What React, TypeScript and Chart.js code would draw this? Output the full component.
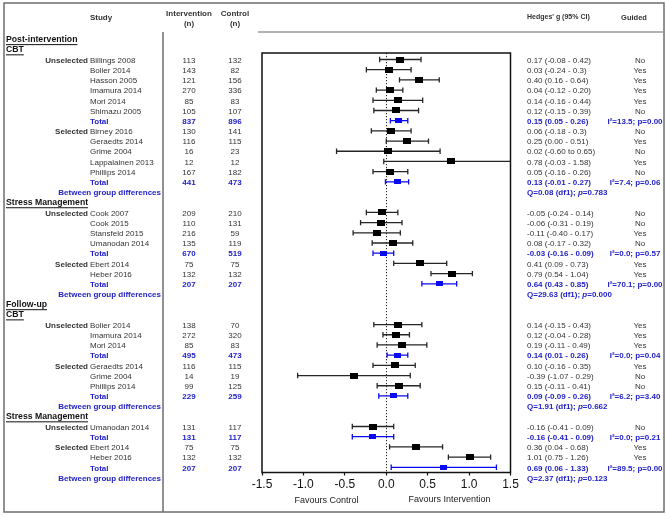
import React, { useEffect, useRef } from 'react';
import { Chart, registerables } from 'chart.js';

Chart.register(...registerables);

// H = section header, S = study, T = subgroup total, B = between-group test
const rowType: string[] = [
  'H', 'H', 'S', 'S', 'S', 'S', 'S', 'S', 'T', 'S', 'S', 'S', 'S', 'S', 'T', 'B',
  'H', 'S', 'S', 'S', 'S', 'T', 'S', 'S', 'T', 'B',
  'H', 'H', 'S', 'S', 'S', 'T', 'S', 'S', 'S', 'T', 'B',
  'H', 'S', 'T', 'S', 'S', 'T', 'B',
];

const rowLabel: string[] = [
  'Post-intervention', 'CBT', 'Billings 2008', 'Bolier 2014', 'Hasson 2005', 'Imamura 2014', 'Mori 2014', 'Shimazu 2005', 'Total',
  'Birney 2016', 'Geraedts 2014', 'Grime 2004', 'Lappalainen 2013', 'Phillips 2014', 'Total', 'Between group differences',
  'Stress Management', 'Cook 2007', 'Cook 2015', 'Stansfeld 2015', 'Umanodan 2014', 'Total', 'Ebert 2014', 'Heber 2016', 'Total', 'Between group differences',
  'Follow-up', 'CBT', 'Bolier 2014', 'Imamura 2014', 'Mori 2014', 'Total', 'Geraedts 2014', 'Grime 2004', 'Phillips 2014', 'Total', 'Between group differences',
  'Stress Management', 'Umanodan 2014', 'Total', 'Ebert 2014', 'Heber 2016', 'Total', 'Between group differences',
];

const rowGroup: string[] = [
  '', '', 'Unselected', '', '', '', '', '', '', 'Selected', '', '', '', '', '', '',
  '', 'Unselected', '', '', '', '', 'Selected', '', '', '',
  '', '', 'Unselected', '', '', '', 'Selected', '', '', '', '',
  '', 'Unselected', '', 'Selected', '', '', '',
];

const nIntervention: (number | null)[] = [
  null, null, 113, 143, 121, 270, 85, 105, 837, 130, 116, 16, 12, 167, 441, null,
  null, 209, 110, 216, 135, 670, 75, 132, 207, null,
  null, null, 138, 272, 85, 495, 116, 14, 99, 229, null,
  null, 131, 131, 75, 132, 207, null,
];

const nControl: (number | null)[] = [
  null, null, 132, 82, 156, 336, 83, 107, 896, 141, 115, 23, 12, 182, 473, null,
  null, 210, 131, 59, 119, 519, 75, 132, 207, null,
  null, null, 70, 320, 83, 473, 115, 19, 125, 259, null,
  null, 117, 117, 75, 132, 207, null,
];

const hedgesG: (number | null)[] = [
  null, null, 0.17, 0.03, 0.40, 0.04, 0.14, 0.12, 0.15, 0.06, 0.25, 0.02, 0.78, 0.05, 0.13, null,
  null, -0.05, -0.06, -0.11, 0.08, -0.03, 0.41, 0.79, 0.64, null,
  null, null, 0.14, 0.12, 0.19, 0.14, 0.10, -0.39, 0.15, 0.09, null,
  null, -0.16, -0.16, 0.36, 1.01, 0.69, null,
];

const ciLow: (number | null)[] = [
  null, null, -0.08, -0.24, 0.16, -0.12, -0.16, -0.15, 0.05, -0.18, 0.00, -0.60, -0.03, -0.16, -0.01, null,
  null, -0.24, -0.31, -0.40, -0.17, -0.16, 0.09, 0.54, 0.43, null,
  null, null, -0.15, -0.04, -0.11, 0.01, -0.16, -1.07, -0.11, -0.09, null,
  null, -0.41, -0.41, 0.04, 0.75, 0.06, null,
];

const ciHigh: (number | null)[] = [
  null, null, 0.42, 0.30, 0.64, 0.20, 0.44, 0.39, 0.26, 0.30, 0.51, 0.65, 1.58, 0.26, 0.27, null,
  null, 0.14, 0.19, 0.17, 0.32, 0.09, 0.73, 1.04, 0.85, null,
  null, null, 0.43, 0.28, 0.49, 0.26, 0.35, 0.29, 0.41, 0.26, null,
  null, 0.09, 0.09, 0.68, 1.26, 1.33, null,
];

const ciText: string[] = [
  '', '', '0.17 (-0.08 - 0.42)', '0.03 (-0.24 - 0.3)', '0.40 (0.16 - 0.64)', '0.04 (-0.12 - 0.20)', '0.14 (-0.16 - 0.44)', '0.12 (-0.15 - 0.39)', '0.15 (0.05 - 0.26)',
  '0.06 (-0.18 - 0.3)', '0.25 (0.00 - 0.51)', '0.02 (-0.60 to 0.65)', '0.78 (-0.03 - 1.58)', '0.05 (-0.16 - 0.26)', '0.13 (-0.01 - 0.27)', 'Q=0.08 (df1); p=0.783',
  '', '-0.05 (-0.24 - 0.14)', '-0.06 (-0.31 - 0.19)', '-0.11 (-0.40 - 0.17)', '0.08 (-0.17 - 0.32)', '-0.03 (-0.16 - 0.09)', '0.41 (0.09 - 0.73)', '0.79 (0.54 - 1.04)', '0.64 (0.43 - 0.85)', 'Q=29.63 (df1); p=0.000',
  '', '', '0.14 (-0.15 - 0.43)', '0.12 (-0.04 - 0.28)', '0.19 (-0.11 - 0.49)', '0.14 (0.01 - 0.26)', '0.10 (-0.16 - 0.35)', '-0.39 (-1.07 - 0.29)', '0.15 (-0.11 - 0.41)', '0.09 (-0.09 - 0.26)', 'Q=1.91 (df1); p=0.662',
  '', '-0.16 (-0.41 - 0.09)', '-0.16 (-0.41 - 0.09)', '0.36 (0.04 - 0.68)', '1.01 (0.75 - 1.26)', '0.69 (0.06 - 1.33)', 'Q=2.37 (df1); p=0.123',
];

const guided: string[] = [
  '', '', 'No', 'Yes', 'Yes', 'Yes', 'Yes', 'No', 'I\u00B2=13.5; p=0.00', 'No', 'Yes', 'No', 'Yes', 'No', 'I\u00B2=7.4; p=0.06', '',
  '', 'No', 'No', 'Yes', 'No', 'I\u00B2=0.0; p=0.57', 'Yes', 'Yes', 'I\u00B2=70.1; p=0.00', '',
  '', '', 'Yes', 'Yes', 'Yes', 'I\u00B2=0.0; p=0.04', 'Yes', 'No', 'No', 'I\u00B2=6.2; p=3.40', '',
  '', 'No', 'I\u00B2=0.0; p=0.21', 'Yes', 'Yes', 'I\u00B2=89.5; p=0.00', '',
];

const xTicks: number[] = [-1.5, -1.0, -0.5, 0.0, 0.5, 1.0, 1.5];
const favoursLeft = 'Favours Control';
const favoursRight = 'Favours Intervention';

const FONT = "'Liberation Sans', Arial, Helvetica, sans-serif";
const TEXT = '#333333';
const BLUE_TEXT = '#2323c8';
const BLUE_MARK = '#0a0af0';

function makeRect(w: number, h: number, color: string) {
  const c = document.createElement('canvas');
  c.width = w;
  c.height = h;
  const g = c.getContext('2d')!;
  g.fillStyle = color;
  g.fillRect(0, 0, w, h);
  return c;
}

const forestPlugin = {
  id: 'forest',
  beforeDatasetsDraw(chart: any) {
    const { ctx, chartArea: a, scales } = chart;
    const x = scales.x;
    const y = scales.y;
    ctx.save();
    ctx.beginPath();
    ctx.rect(a.left, a.top, a.right - a.left, a.bottom - a.top);
    ctx.clip();
    // zero line
    const x0 = Math.round(x.getPixelForValue(0)) + 0.5;
    ctx.setLineDash([1.2, 1.8]);
    ctx.strokeStyle = '#222';
    ctx.lineWidth = 1;
    ctx.beginPath();
    ctx.moveTo(x0, a.top);
    ctx.lineTo(x0, a.bottom);
    ctx.stroke();
    ctx.setLineDash([]);
    // whiskers
    for (let i = 0; i < rowType.length; i++) {
      const lo = ciLow[i];
      const hi = ciHigh[i];
      if (lo === null || hi === null) continue;
      const yp = y.getPixelForValue(i);
      const xl = x.getPixelForValue(lo);
      const xh = x.getPixelForValue(hi);
      ctx.strokeStyle = rowType[i] === 'T' ? BLUE_MARK : '#262626';
      ctx.lineWidth = 1.3;
      ctx.beginPath();
      ctx.moveTo(xl, yp);
      ctx.lineTo(xh, yp);
      ctx.moveTo(xl, yp - 2.7);
      ctx.lineTo(xl, yp + 2.7);
      ctx.moveTo(xh, yp - 2.7);
      ctx.lineTo(xh, yp + 2.7);
      ctx.stroke();
    }
    ctx.restore();
  },
  afterDraw(chart: any) {
    const { ctx, chartArea: a, scales } = chart;
    const y = scales.y;
    ctx.save();
    // plot box
    ctx.strokeStyle = '#111';
    ctx.lineWidth = 1.5;
    ctx.strokeRect(a.left, a.top, a.right - a.left, a.bottom - a.top);

    // outer frame and dividers
    ctx.strokeStyle = '#6e6e6e';
    ctx.lineWidth = 1.5;
    ctx.strokeRect(4, 3, 660, 509);
    ctx.beginPath();
    ctx.moveTo(163, 32);
    ctx.lineTo(163, 512);
    ctx.stroke();
    ctx.strokeStyle = '#999';
    ctx.beginPath();
    ctx.moveTo(258, 32);
    ctx.lineTo(664, 32);
    ctx.stroke();

    ctx.textBaseline = 'middle';
    const put = (t: string, px: number, py: number, align: CanvasTextAlign, font: string, color: string) => {
      ctx.font = font;
      ctx.fillStyle = color;
      ctx.textAlign = align;
      ctx.fillText(t, px, py);
    };
    const bold8 = `bold 8px ${FONT}`;
    const reg8 = `8px ${FONT}`;

    // header
    put('Study', 101, 18, 'center', bold8, TEXT);
    put('Intervention', 189, 14, 'center', bold8, TEXT);
    put('(n)', 189, 24, 'center', bold8, TEXT);
    put('Control', 235, 14, 'center', bold8, TEXT);
    put('(n)', 235, 24, 'center', bold8, TEXT);
    put("Hedges' g (95% CI)", 527, 17.5, 'left', `bold 7px ${FONT}`, TEXT);
    put('Guided', 634, 17.5, 'center', `bold 7.5px ${FONT}`, TEXT);

    for (let i = 0; i < rowType.length; i++) {
      const t = rowType[i];
      const yp = y.getPixelForValue(i) + 1;
      if (t === 'H') {
        const f = `bold 8.7px ${FONT}`;
        put(rowLabel[i], 6, yp - 1, 'left', f, '#111');
        ctx.font = f;
        const w = ctx.measureText(rowLabel[i]).width;
        ctx.strokeStyle = '#111';
        ctx.lineWidth = 1;
        ctx.beginPath();
        ctx.moveTo(6, yp + 4.5);
        ctx.lineTo(6 + w, yp + 4.5);
        ctx.stroke();
        continue;
      }
      if (t === 'B') {
        put(rowLabel[i], 161, yp, 'right', bold8, BLUE_TEXT);
        // Q statistic with italic p
        const parts = ciText[i].split('p=');
        ctx.font = bold8;
        ctx.fillStyle = BLUE_TEXT;
        ctx.textAlign = 'left';
        let xx = 527;
        ctx.fillText(parts[0], xx, yp);
        xx += ctx.measureText(parts[0]).width;
        ctx.font = `italic bold 8px ${FONT}`;
        ctx.fillText('p', xx, yp);
        xx += ctx.measureText('p').width;
        ctx.font = bold8;
        ctx.fillText('=' + parts[1], xx, yp);
        continue;
      }
      const isTotal = t === 'T';
      const color = isTotal ? BLUE_TEXT : TEXT;
      const f = isTotal ? bold8 : reg8;
      if (rowGroup[i]) put(rowGroup[i], 88, yp, 'right', bold8, TEXT);
      put(rowLabel[i], 90, yp, 'left', f, color);
      if (nIntervention[i] !== null) put(String(nIntervention[i]), 189, yp, 'center', f, color);
      if (nControl[i] !== null) put(String(nControl[i]), 235, yp, 'center', f, color);
      put(ciText[i], 527, yp, 'left', f, color);
      put(guided[i], isTotal ? 635 : 640, yp, 'center', f, color);
    }

    // axis captions
    put(favoursLeft, 326.5, 501, 'center', `9px ${FONT}`, '#222');
    put(favoursRight, 449.5, 500, 'center', `9px ${FONT}`, '#222');
    ctx.restore();
  },
};

export default function App() {
  const ref = useRef<HTMLCanvasElement | null>(null);

  useEffect(() => {
    if (!ref.current) return;
    const blackSq = makeRect(8, 6, '#000');
    const blueSq = makeRect(7, 5, BLUE_MARK);
    const studyPts: { x: number; y: number }[] = [];
    const totalPts: { x: number; y: number }[] = [];
    hedgesG.forEach((g, i) => {
      if (g === null) return;
      if (rowType[i] === 'T') totalPts.push({ x: g, y: i });
      else studyPts.push({ x: g, y: i });
    });

    const chart = new Chart(ref.current, {
      type: 'scatter',
      data: {
        datasets: [
          { data: studyPts, pointStyle: blackSq as any, pointRadius: 4, backgroundColor: '#000', borderColor: '#000' },
          { data: totalPts, pointStyle: blueSq as any, pointRadius: 4, backgroundColor: BLUE_MARK, borderColor: BLUE_MARK },
        ],
      },
      options: {
        responsive: false,
        animation: false,
        events: [],
        layout: { padding: { left: 262, right: 155.5, top: 53, bottom: 0 } },
        plugins: { legend: { display: false }, tooltip: { enabled: false } },
        scales: {
          x: {
            type: 'linear',
            min: -1.5,
            max: 1.5,
            afterBuildTicks: (s: any) => {
              s.ticks = xTicks.map((v) => ({ value: v }));
            },
            afterFit: (s: any) => {
              s.height = 44.5;
            },
            ticks: {
              callback: (v: any) => Number(v).toFixed(1),
              font: { size: 12, family: FONT },
              color: '#111',
              padding: 2,
              maxRotation: 0,
              autoSkip: false,
            },
            grid: { drawOnChartArea: false, drawTicks: true, tickLength: 3, tickColor: '#111', tickWidth: 1.2 },
            border: { display: false },
          },
          y: {
            type: 'linear',
            display: false,
            reverse: true,
            min: 1.36,
            max: 42.51,
          },
        },
      },
      plugins: [forestPlugin],
    });
    return () => chart.destroy();
  }, []);

  return (
    <div style={{ position: 'fixed', left: 0, top: 0, width: 666, height: 517, background: '#fff' }}>
      <canvas ref={ref} width={666} height={517} />
    </div>
  );
}
